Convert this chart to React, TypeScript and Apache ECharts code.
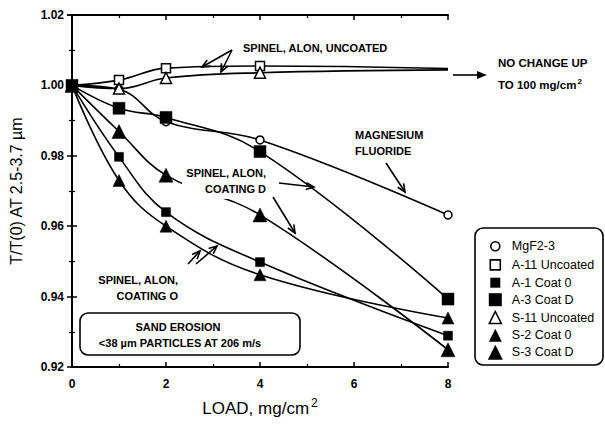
import React, { useEffect, useRef } from "react";
import * as echarts from "echarts";

const loads = [0, 1, 2, 4, 8];
const mgf2 = [1.0, 0.9989, 0.9897, 0.9845, 0.9632];
const a11 = [1.0, 1.0015, 1.0049, 1.0055, 1.0048];
const a1 = [1.0, 0.9797, 0.964, 0.9498, 0.9289];
const a3 = [1.0, 0.9935, 0.9909, 0.9812, 0.9393];
const s11 = [1.0, 0.9991, 1.0021, 1.0036, 1.0044];
const s2 = [1.0, 0.973, 0.96, 0.9462, 0.9339];
const s3 = [1.0, 0.9869, 0.9745, 0.9632, 0.9249];

const xTicks = [0, 2, 4, 6, 8];
const yTicks = [0.92, 0.94, 0.96, 0.98, 1.0, 1.02];

const FONT = "'Liberation Sans', Arial, Helvetica, sans-serif";

type Spec = {
  name: string;
  values: number[];
  symbol: string;
  size: number;
  legendSize: number;
  open: boolean;
  hideLast?: boolean;
};

const specs: Spec[] = [
  { name: "MgF2-3", values: mgf2, symbol: "circle", size: 8, legendSize: 9, open: true },
  { name: "A-11 Uncoated", values: a11, symbol: "rect", size: 9, legendSize: 10, open: true, hideLast: true },
  { name: "A-1 Coat 0", values: a1, symbol: "rect", size: 9, legendSize: 10, open: false },
  { name: "A-3 Coat D", values: a3, symbol: "rect", size: 12, legendSize: 13, open: false },
  { name: "S-11 Uncoated", values: s11, symbol: "triangle", size: 11, legendSize: 12, open: true, hideLast: true },
  { name: "S-2 Coat 0", values: s2, symbol: "triangle", size: 12, legendSize: 13, open: false },
  { name: "S-3 Coat D", values: s3, symbol: "triangle", size: 14, legendSize: 15, open: false },
];

// legend icon paths padded with invisible move-to points so that each icon keeps its own size in a 15x15 box
function iconPath(symbol: string, size: number) {
  const box = 15;
  const o = (box - size) / 2;
  const e = o + size;
  let body = "";
  if (symbol === "rect") body = `M${o},${o}L${e},${o}L${e},${e}L${o},${e}Z`;
  else if (symbol === "triangle") body = `M${box / 2},${o}L${e},${e}L${o},${e}Z`;
  else {
    const r = size / 2;
    const c = box / 2;
    body = `M${c - r},${c}A${r},${r} 0 1,0 ${c + r},${c}A${r},${r} 0 1,0 ${c - r},${c}Z`;
  }
  return `path://M0,0M${box},${box}M${o},${o}` + body;
}

function arrow(x1: number, y1: number, x2: number, y2: number, filled = false, head = 8) {
  const a = Math.atan2(y2 - y1, x2 - x1);
  const w = filled ? 4 : 3.5;
  const bx = x2 - head * Math.cos(a);
  const by = y2 - head * Math.sin(a);
  const px = -Math.sin(a) * w;
  const py = Math.cos(a) * w;
  const els: any[] = [
    {
      type: "line",
      z: 11,
      shape: { x1, y1, x2: filled ? bx : x2, y2: filled ? by : y2 },
      style: { stroke: "#000", lineWidth: 1.6 },
    },
  ];
  if (filled) {
    els.push({
      type: "polygon",
      z: 11,
      shape: { points: [[x2, y2], [bx + px, by + py], [bx - px, by - py]] },
      style: { fill: "#000" },
    });
  } else {
    els.push({
      type: "polyline",
      z: 11,
      shape: { points: [[bx + px, by + py], [x2, y2], [bx - px, by - py]] },
      style: { stroke: "#000", lineWidth: 1.6, fill: null },
    });
  }
  return els;
}

function label(text: string, x: number, y: number, align = "left", size = 11, extra: any = {}) {
  return {
    type: "text",
    x,
    y,
    z: 10,
    style: {
      text,
      fill: "#000",
      fontFamily: FONT,
      fontWeight: "bold",
      fontSize: size,
      align,
      verticalAlign: "middle",
      ...extra,
    },
  };
}

export default function App() {
  const ref = useRef<HTMLDivElement>(null);

  useEffect(() => {
    if (!ref.current) return;
    const chart = echarts.init(ref.current, null, { renderer: "svg" });

    const series = specs.map((s) => ({
      name: s.name,
      type: "line",
      smooth: 0.4,
      symbol: s.symbol,
      symbolSize: s.size,
      data: loads.map((x, i) =>
        s.hideLast && i === loads.length - 1
          ? { value: [x, s.values[i]], symbol: "none" }
          : [x, s.values[i]]
      ),
      lineStyle: { color: "#000", width: 1.6 },
      itemStyle: {
        color: s.open ? "#fff" : "#000",
        borderColor: "#000",
        borderWidth: s.open ? 1.5 : 0.5,
      },
      z: 3,
    }));

    const axisCommon = {
      axisLine: { show: true, lineStyle: { color: "#000", width: 2 } },
      axisTick: { show: true, inside: true, length: 5, lineStyle: { color: "#000", width: 1.5 } },
      minorTick: { show: true, splitNumber: 2, length: 3, lineStyle: { color: "#000", width: 1.2 } },
      splitLine: { show: false },
    };

    const option: any = {
      animation: false,
      grid: { left: 66, right: 157, top: 15, bottom: 58, containLabel: false },
      xAxis: [
        {
          type: "value",
          min: xTicks[0],
          max: xTicks[xTicks.length - 1],
          interval: xTicks[1] - xTicks[0],
          position: "bottom",
          ...axisCommon,
          axisLabel: {
            color: "#000",
            fontFamily: FONT,
            fontWeight: "bold",
            fontSize: 12,
            margin: 11,
          },
          name: "LOAD, mg/cm{s|2}",
          nameLocation: "middle",
          nameGap: 30,
          nameTextStyle: {
            color: "#000",
            fontFamily: FONT,
            fontSize: 17,
            rich: { s: { fontSize: 12, fontFamily: FONT, color: "#000", verticalAlign: "top", padding: [0, 0, 10, 2] } },
          },
        },
        {
          type: "value",
          min: xTicks[0],
          max: xTicks[xTicks.length - 1],
          interval: xTicks[1] - xTicks[0],
          position: "top",
          ...axisCommon,
          axisLabel: { show: false },
        },
      ],
      yAxis: [
        {
          type: "value",
          min: yTicks[0],
          max: yTicks[yTicks.length - 1],
          interval: yTicks[1] - yTicks[0],
          position: "left",
          ...axisCommon,
          axisLabel: {
            color: "#000",
            fontFamily: FONT,
            fontWeight: "bold",
            fontSize: 12,
            margin: 8,
            formatter: (v: number) => v.toFixed(2),
          },
          name: "T/T(0) AT 2.5-3.7 µm",
          nameLocation: "middle",
          nameGap: 48,
          nameTextStyle: { color: "#000", fontFamily: FONT, fontSize: 16 },
        },
        {
          type: "value",
          min: yTicks[0],
          max: yTicks[yTicks.length - 1],
          interval: yTicks[1] - yTicks[0],
          position: "right",
          ...axisCommon,
          axisLabel: { show: false },
        },
      ],
      legend: {
        orient: "vertical",
        left: 482,
        top: 233,
        itemWidth: 15,
        itemHeight: 15,
        itemGap: 2,
        selectedMode: false,
        textStyle: { color: "#000", fontFamily: FONT, fontSize: 12.5, padding: [0, 0, 0, 4] },
        data: specs.map((s) => ({
          name: s.name,
          icon: iconPath(s.symbol, s.legendSize),
          itemStyle: {
            color: s.open ? "#fff" : "#000",
            borderColor: "#000",
            borderWidth: s.open ? 1.6 : 0,
          },
        })),
      },
      series,
      graphic: [
        // legend frame
        {
          type: "rect",
          shape: { x: 475, y: 228, width: 128, height: 137, r: 8 },
          style: { fill: null, stroke: "#000", lineWidth: 1.6 },
          z: 1,
        },
        // sand erosion box
        {
          type: "rect",
          shape: { x: 80, y: 313, width: 220, height: 42, r: 8 },
          style: { fill: "#fff", stroke: "#000", lineWidth: 1.6 },
          z: 5,
        },
        label("SAND EROSION", 178, 327, "center", 11),
        label("<38 µm PARTICLES AT 206 m/s", 180, 343, "center", 11),
        // uncoated
        label("SPINEL, ALON, UNCOATED", 243, 48, "left", 11),
        ...arrow(232, 50, 202, 67),
        ...arrow(232, 50, 221, 72),
        // no change
        label("NO CHANGE UP", 498, 63, "left", 11.5),
        label("TO 100 mg/cm{s|2}", 498, 85, "left", 11.5, {
          rich: {
            s: { fontSize: 8, fontFamily: FONT, fontWeight: "bold", verticalAlign: "top", padding: [0, 0, 8, 1] },
          },
        }),
        ...arrow(453, 75, 487, 75, true, 10),
        // magnesium fluoride
        label("MAGNESIUM", 355, 135, "left", 11),
        label("FLUORIDE", 355, 151, "left", 11),
        ...arrow(386, 163, 405, 192),
        // coating D
        label("SPINEL, ALON,\nCOATING D", 270, 181, "right", 11, {
          lineHeight: 16,
          backgroundColor: "#fff",
          padding: [2, 4, 2, 4],
        }),
        ...arrow(279, 183, 314, 187),
        ...arrow(273, 197, 295, 233),
        // coating O
        label("SPINEL, ALON,", 178, 280, "right", 11),
        label("COATING O", 178, 296, "right", 11),
        ...arrow(188, 264, 200, 251),
        ...arrow(196, 264, 217, 246),
      ],
    };

    chart.setOption(option);
    return () => chart.dispose();
  }, []);

  return (
    <div
      ref={ref}
      style={{ position: "absolute", left: 0, top: 0, width: 605, height: 425, background: "#fff" }}
    />
  );
}
